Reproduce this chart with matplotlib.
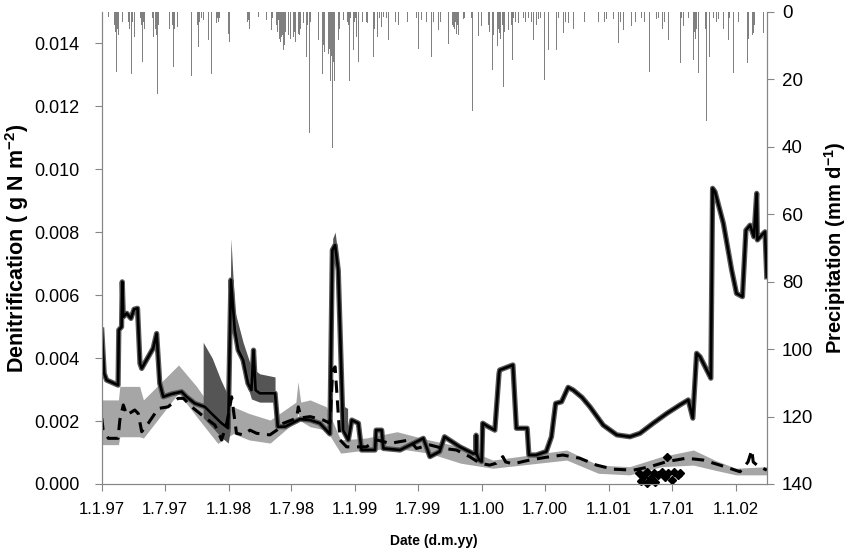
import matplotlib
matplotlib.use('Agg')
import matplotlib.pyplot as plt
import pandas as pd

plt.rcParams['font.family'] = ['Liberation Sans', 'DejaVu Sans']
plt.rcParams['mathtext.fontset'] = 'custom'
plt.rcParams['mathtext.rm'] = 'Liberation Sans'
plt.rcParams['mathtext.bf'] = 'Liberation Sans:bold'

# simulated denitrification, run 1 (solid line, dark band)
solid_dates = ['1997-01-01', '1997-01-08', '1997-01-15', '1997-02-17', '1997-02-19', '1997-02-27',
               '1997-03-01', '1997-03-04', '1997-03-14', '1997-03-26', '1997-04-04', '1997-04-14',
               '1997-04-21', '1997-04-26', '1997-05-15', '1997-05-29', '1997-06-08', '1997-06-17',
               '1997-06-27', '1997-07-21', '1997-08-19', '1997-09-02', '1997-09-26', '1997-10-25',
               '1997-11-13', '1997-12-12', '1997-12-31', '1998-01-08', '1998-01-19', '1998-01-29',
               '1998-02-12', '1998-02-26', '1998-03-08', '1998-03-14', '1998-03-20', '1998-04-01',
               '1998-05-15', '1998-05-23', '1998-06-13', '1998-07-26', '1998-08-24', '1998-09-21',
               '1998-10-20', '1998-10-27', '1998-11-04', '1998-11-13', '1998-11-27', '1998-12-12',
               '1998-12-22', '1999-01-10', '1999-01-19', '1999-02-27', '1999-03-02', '1999-03-18',
               '1999-03-23', '1999-05-10', '1999-06-17', '1999-07-16', '1999-08-04', '1999-09-01',
               '1999-09-15', '1999-10-29', '1999-12-06', '1999-12-14', '1999-12-15', '1999-12-16',
               '1999-12-24', '1999-12-31', '2000-01-03', '2000-01-19', '2000-02-07', '2000-02-19',
               '2000-02-21', '2000-03-30', '2000-04-09', '2000-05-10', '2000-05-15', '2000-06-05',
               '2000-07-04', '2000-07-19', '2000-07-31', '2000-08-17', '2000-09-05', '2000-09-20',
               '2000-10-15', '2000-11-07', '2000-12-15', '2001-01-23', '2001-03-02', '2001-03-31',
               '2001-05-08', '2001-06-16', '2001-07-24', '2001-08-17', '2001-08-30', '2001-09-10',
               '2001-09-20', '2001-10-21', '2001-10-26', '2001-11-02', '2001-11-26', '2001-12-20',
               '2002-01-03', '2002-01-20', '2002-01-30', '2002-02-11', '2002-02-22', '2002-03-02',
               '2002-03-04', '2002-03-17', '2002-03-26', '2002-03-31']
solid_vals = [0.00489, 0.00351, 0.00330, 0.00314, 0.00489, 0.00499,
              0.00642, 0.00531, 0.00542, 0.00526, 0.00555, 0.00558,
              0.00383, 0.00367, 0.00404, 0.00431, 0.00478, 0.00320,
              0.00277, 0.00286, 0.00293, 0.00277, 0.00256, 0.00245,
              0.00224, 0.00193, 0.00177, 0.00648, 0.00489, 0.00425,
              0.00394, 0.00320, 0.00298, 0.00425, 0.00298, 0.00288,
              0.00288, 0.00182, 0.00182, 0.00206, 0.00203, 0.00193,
              0.00159, 0.00743, 0.00759, 0.00679, 0.00171, 0.00140,
              0.00203, 0.00193, 0.00108, 0.00108, 0.00171, 0.00171,
              0.00113, 0.00108, 0.00129, 0.00145, 0.00087, 0.00103,
              0.00150, 0.00118, 0.00097, 0.00097, 0.00155, 0.00097,
              0.00076, 0.00071, 0.00193, 0.00182, 0.00171, 0.00351,
              0.00362, 0.00378, 0.00177, 0.00177, 0.00092, 0.00092,
              0.00103, 0.00150, 0.00256, 0.00261, 0.00307, 0.00298,
              0.00275, 0.00245, 0.00187, 0.00156, 0.00150, 0.00161,
              0.00193, 0.00224, 0.00251, 0.00267, 0.00209, 0.00415,
              0.00404, 0.00336, 0.00939, 0.00928, 0.00828, 0.00679,
              0.00605, 0.00595, 0.00806, 0.00822, 0.00785, 0.00923,
              0.00775, 0.00791, 0.00801, 0.00658]

# wider parts of the dark uncertainty band
dark_dates = ['1997-10-20', '1997-11-15', '1997-12-10', '1997-12-31', '1998-01-06', '1998-01-08',
              '1998-01-19', '1998-02-12', '1998-03-08', '1998-04-01', '1998-05-15']
dark_lo = [0.00210, 0.00180, 0.00150, 0.00130, 0.00170, 0.00600,
           0.00460, 0.00360, 0.00270, 0.00260, 0.00260]
dark_hi = [0.00450, 0.00400, 0.00330, 0.00280, 0.00600, 0.00780,
           0.00550, 0.00450, 0.00370, 0.00350, 0.00340]
dark2_dates = ['1998-10-25', '1998-10-28', '1998-11-04', '1998-11-13', '1998-11-25', '1998-12-10']
dark2_lo = [0.00160, 0.00700, 0.00740, 0.00640, 0.00170, 0.00140]
dark2_hi = [0.00200, 0.00780, 0.00800, 0.00720, 0.00250, 0.00240]

# simulated denitrification, run 2 (dashed line, light band)
dash_dates = ['1997-01-01', '1997-01-05', '1997-01-20', '1997-02-17', '1997-02-22', '1997-03-04',
              '1997-03-14', '1997-04-06', '1997-04-16', '1997-04-26', '1997-05-15', '1997-06-13',
              '1997-07-11', '1997-08-09', '1997-08-24', '1997-09-17', '1997-10-16', '1997-11-04',
              '1997-11-23', '1997-12-12', '1997-12-27', '1998-01-10', '1998-01-24', '1998-02-12',
              '1998-03-04', '1998-03-23', '1998-04-30', '1998-05-20', '1998-06-08', '1998-07-16',
              '1998-07-21', '1998-07-29', '1998-08-24', '1998-10-01', '1998-10-20', '1998-10-28',
              '1998-11-04', '1998-11-18', '1998-12-07', '1999-02-02', '1999-03-04', '1999-04-11',
              '1999-06-07', '1999-06-26', '1999-08-04', '1999-09-11', '1999-10-19', '1999-11-26',
              '1999-12-26', '2000-01-23', '2000-02-11', '2000-03-01', '2000-03-09', '2000-03-30',
              '2000-05-17', '2000-07-04', '2000-08-21', '2000-10-08', '2000-11-26', '2001-01-13',
              '2001-03-12', '2001-04-29', '2001-06-16', '2001-08-12', '2001-09-29', '2001-11-16',
              '2002-01-13', '2002-02-05', '2002-02-16', '2002-02-20', '2002-03-06', '2002-03-31']
dash_vals = [0.00209, 0.00171, 0.00145, 0.00145, 0.00203, 0.00251,
             0.00219, 0.00235, 0.00224, 0.00166, 0.00193, 0.00240,
             0.00245, 0.00272, 0.00272, 0.00245, 0.00219, 0.00203,
             0.00187, 0.00140, 0.00193, 0.00277, 0.00161, 0.00156,
             0.00171, 0.00161, 0.00156, 0.00171, 0.00193, 0.00209,
             0.00245, 0.00210, 0.00214, 0.00203, 0.00193, 0.00362,
             0.00372, 0.00140, 0.00118, 0.00118, 0.00140, 0.00129,
             0.00140, 0.00113, 0.00124, 0.00113, 0.00108, 0.00087,
             0.00066, 0.00060, 0.00066, 0.00087, 0.00070, 0.00064,
             0.00076, 0.00085, 0.00092, 0.00082, 0.00060, 0.00047,
             0.00044, 0.00055, 0.00071, 0.00082, 0.00076, 0.00060,
             0.00039, 0.00070, 0.00108, 0.00070, 0.00057, 0.00044]

light_dates = ['1997-01-01', '1997-02-18', '1997-02-22', '1997-04-20', '1997-05-01', '1997-08-10',
               '1997-10-01', '1997-12-01', '1998-01-15', '1998-03-01', '1998-05-01', '1998-07-14',
               '1998-07-20', '1998-07-28', '1998-08-24', '1998-10-10', '1998-11-20', '1999-02-01',
               '1999-05-01', '1999-08-01', '1999-11-01', '2000-02-01', '2000-09-01', '2000-12-01',
               '2001-03-01', '2001-06-01', '2001-09-01', '2001-11-01', '2002-01-01', '2002-03-31']
light_lo = [0.00125, 0.00125, 0.00150, 0.00150, 0.00146, 0.00289,
            0.00214, 0.00129, 0.00160, 0.00140, 0.00130, 0.00200,
            0.00225, 0.00200, 0.00182, 0.00171, 0.00098, 0.00108,
            0.00113, 0.00098, 0.00066, 0.00050, 0.00076, 0.00034,
            0.00029, 0.00055, 0.00060, 0.00044, 0.00029, 0.00029]
light_hi = [0.00267, 0.00267, 0.00310, 0.00310, 0.00267, 0.00378,
            0.00310, 0.00214, 0.00245, 0.00224, 0.00203, 0.00260,
            0.00325, 0.00260, 0.00267, 0.00245, 0.00140, 0.00146,
            0.00166, 0.00140, 0.00118, 0.00076, 0.00108, 0.00060,
            0.00055, 0.00087, 0.00108, 0.00076, 0.00050, 0.00055]

# measured denitrification (diamonds)
obs_dates = ['2001-03-29', '2001-04-02', '2001-04-10', '2001-04-20', '2001-04-21', '2001-05-01',
             '2001-05-09', '2001-05-14', '2001-05-23', '2001-06-02', '2001-06-11', '2001-06-16',
             '2001-06-21', '2001-07-01', '2001-07-07', '2001-07-17', '2001-07-25']
obs_vals = [0.00034, 0.00010, 0.00023, 0.00039, 0.00002, 0.00018,
            0.00034, 0.00007, 0.00029, 0.00039, 0.00023, 0.00087,
            0.00034, 0.00013, 0.00039, 0.00029, 0.00034]

# daily precipitation, larger events (days after 1.1.97, mm)
rain_day = [19, 29, 43, 48, 53, 58, 62, 75, 82, 86, 94, 105, 117, 125, 130, 136, 139, 144, 149,
            161, 168, 173, 179, 185, 190, 197, 202, 206, 211, 218, 226, 239, 245, 251, 258, 274,
            278, 283, 293, 307, 316, 331, 341, 346, 358, 365, 370, 375, 381, 389, 398, 422, 427,
            432, 439, 451, 458, 464, 475, 485, 489, 509, 518, 523, 533, 540, 545, 552, 560, 566,
            576, 581, 590, 598, 605, 614, 624, 636, 646, 653, 659, 664, 670, 675, 682, 696, 713,
            718, 725, 734, 739, 749, 755, 765, 773, 782, 787, 794, 806, 811, 826, 835, 842, 859,
            864, 874, 888, 893, 902, 912, 921, 931, 950, 960, 970, 989, 998, 1003, 1013, 1022,
            1027, 1037, 1042, 1051, 1061, 1068, 1075, 1085, 1094, 1118, 1125, 1133, 1140, 1145,
            1152, 1157, 1164, 1171, 1183, 1200, 1210, 1224, 1234, 1243, 1258, 1275, 1286, 1296,
            1310, 1320, 1330, 1344, 1354, 1368, 1380, 1395, 1406, 1426, 1443, 1454, 1474, 1488,
            1502, 1512, 1526, 1541, 1550, 1558, 1570, 1577, 1584, 1598, 1613, 1625, 1632, 1642,
            1648, 1656, 1666, 1675, 1685, 1694, 1704, 1718, 1728, 1735, 1742, 1750, 1757, 1766,
            1776, 1786, 1795, 1805, 1819, 1829, 1838, 1846, 1853, 1860, 1867, 1877, 1884, 1889,
            1896, 1906]
rain_mm = [1.5, 2.0, 18.0, 7.0, 8.5, 26.0, 2.5, 9.5, 4.5, 18.5, 7.5, 3.5, 15.0, 3.5, 15.0, 25.5,
           18.5, 5.5, 7.5, 24.5, 3.5, 11.5, 19.5, 21.0, 5.5, 18.5, 11.5, 16.5, 15.5, 4.5, 1.5,
           34.5, 2.5, 5.5, 19.0, 3.5, 10.5, 16.0, 2.5, 8.5, 18.5, 3.5, 6.5, 16.0, 8.5, 6.5, 12.5,
           36.5, 8.5, 3.5, 1.5, 2.5, 18.5, 19.0, 4.5, 1.5, 19.0, 6.5, 2.5, 10.5, 5.5, 2.5, 7.5,
           11.5, 8.5, 12.5, 17.0, 7.5, 18.5, 6.5, 10.5, 3.5, 13.5, 36.0, 5.5, 14.5, 8.5, 18.5,
           16.5, 12.5, 20.5, 40.5, 20.5, 21.5, 8.5, 2.5, 20.5, 6.5, 11.5, 7.5, 15.0, 8.5, 12.0,
           3.5, 6.5, 13.5, 11.5, 7.5, 4.5, 1.5, 8.5, 6.5, 2.5, 7.5, 9.0, 2.5, 5.5, 7.5, 4.5,
           11.0, 2.5, 5.5, 13.5, 18.0, 5.5, 11.5, 9.5, 5.5, 4.5, 6.5, 7.0, 2.5, 2.3, 13.3, 6.3,
           29.3, 10.3, 7.3, 4.3, 3.3, 17.3, 5.3, 10.3, 6.3, 9.3, 22.3, 18.3, 5.3, 14.3, 3.3,
           4.3, 2.3, 5.3, 8.3, 2.3, 20.3, 11.3, 5.3, 11.3, 4.3, 6.3, 3.3, 11.3, 4.3, 3.3, 12.3,
           4.3, 3.3, 16.8, 2.3, 2.3, 9.3, 5.3, 6.3, 4.3, 4.3, 6.3, 8.3, 4.3, 17.8, 7.3, 2.3,
           5.3, 26.3, 8.3, 8.3, 32.3, 7.3, 15.3, 4.3, 17.3, 6.3, 14.3, 18.3, 9.3, 35.3, 32.3,
           13.3, 16.3, 8.3, 2.3, 6.3, 9.3, 8.3, 18.3, 4.3, 4.3, 5.3, 16.3, 15.3, 17.3, 6.3, 21.3,
           14.3, 7.3, 6.3]

# daily precipitation, small events (days after 1.1.97, mm)
small_day = [33, 35, 37, 39, 41, 45, 50, 55, 60, 70, 73, 77, 80, 84, 88, 112, 115, 120, 123, 128,
             133, 141, 146, 155, 158, 163, 165, 170, 176, 182, 188, 193, 195, 200, 204, 209, 214,
             243, 248, 254, 272, 276, 281, 287, 333, 336, 339, 344, 349, 352, 355, 361, 368, 372,
             378, 384, 387, 420, 425, 430, 435, 455, 461, 470, 478, 482, 492, 503, 506, 512, 515,
             521, 526, 529, 536, 538, 543, 548, 555, 558, 563, 569, 572, 579, 588, 593, 601, 608,
             611, 617, 639, 641, 643, 649, 651, 656, 662, 667, 672, 678, 680, 685, 708, 711, 716,
             721, 728, 731, 751, 758, 762, 775, 778, 785, 790, 861, 868, 876, 882, 991, 994, 1000,
             1006, 1010, 1016, 1019, 1025, 1031, 1034, 1040, 1114, 1116, 1121, 1128, 1130, 1136,
             1143, 1148, 1154, 1160, 1167, 1175, 1180, 1186, 1282, 1290, 1300, 1306, 1315, 1358,
             1362, 1372, 1412, 1418, 1430, 1484, 1494, 1506, 1518, 1530, 1537, 1608, 1615, 1620,
             1628, 1637, 1645, 1696, 1699, 1707, 1710, 1713, 1722, 1725, 1732, 1739, 1778, 1781,
             1790, 1798, 1801, 1844, 1849, 1856, 1863, 1870, 1874, 1880, 1892, 1899, 1902,
             800, 815, 820, 830, 838, 846, 850, 855, 871, 880, 885, 897, 906, 916, 925, 935, 940,
             945, 955, 965, 975, 980, 1045, 1055, 1065, 1072, 1080, 1090, 1100, 1106, 1192, 1196,
             1205, 1215, 1220, 1229, 1238, 1248, 1252, 1264, 1268, 1325, 1335, 1340, 1349, 1385,
             1390, 1400, 1440, 1448, 1460, 1466, 1470, 1478, 1545, 1554, 1563, 1590, 1594, 1603,
             1660, 1670, 1680, 1690, 1750, 1762, 1770, 1808, 1812, 1824, 1834]
small_mm = [5, 7, 4, 6, 8, 5, 6, 4, 3, 3, 4, 3, 5, 2, 3, 2, 4, 3, 5, 4,
            3, 4, 2, 5, 7, 4, 6, 5, 8, 6, 4, 7, 5, 6, 4, 5, 3,
            3, 2, 3, 2, 4, 3, 2, 2, 3, 2, 4, 3, 2, 5, 4, 9, 10,
            6, 4, 2, 3, 5, 4, 3, 2, 3, 2, 2, 3, 2, 4, 6, 8, 9,
            7, 10, 6, 9, 7, 8, 5, 6, 9, 4, 7, 5, 3, 3, 4, 3, 4,
            2, 3, 10, 12, 8, 14, 9, 11, 13, 15, 10, 12, 7, 5, 3, 4, 2,
            4, 3, 2, 3, 2, 3, 4, 6, 5, 3, 3, 2, 3, 2, 4, 5, 3,
            6, 4, 5, 3, 4, 5, 3, 4, 4, 6, 5, 7, 4, 6,
            5, 8, 4, 6, 5, 3, 4, 2, 2, 3, 2, 3, 2, 5,
            4, 3, 3, 2, 3, 2, 3, 2, 3, 2, 3, 4, 5, 3,
            4, 5, 3, 5, 7, 6, 8, 5, 6, 4, 7, 5, 6, 8,
            5, 7, 4, 5, 7, 6, 8, 5, 7, 4, 6, 5, 8,
            2, 3, 2, 4, 2, 3, 2, 4, 2, 3, 2, 3, 2, 3, 2, 3, 2,
            4, 3, 2, 3, 2, 2, 3, 2, 4, 2, 3, 2, 3, 3, 2,
            3, 2, 3, 2, 3, 2, 4, 2, 3, 2, 3, 2, 3, 2,
            3, 2, 2, 3, 2, 3, 2, 3, 3, 2, 3, 2, 3, 2,
            3, 2, 3, 2, 3, 2, 3, 2, 3, 2, 3]

tick_dates = pd.date_range('1997-01-01', '2002-01-01', freq='6MS')
tick_labels = [f'{d.day}.{d.month}.{d.year % 100:02d}' for d in tick_dates]

start = pd.Timestamp('1997-01-01')
sd = pd.to_datetime(solid_dates)
dd = pd.to_datetime(dash_dates)
rain_dates = start + pd.to_timedelta(rain_day + small_day, unit='D')
rain_all = rain_mm + small_mm

fig = plt.figure(figsize=(8.48, 5.51), dpi=100)
ax = fig.add_axes([0.12, 0.1216, 0.7842, 0.8572])

ax.fill_between(pd.to_datetime(light_dates), light_lo, light_hi, color='#a6a6a6', lw=0, zorder=1)
ax.plot(dd, dash_vals, color='black', lw=2.2, dashes=(4, 2.5), zorder=3)
ax.fill_between(pd.to_datetime(dark_dates), dark_lo, dark_hi, color='#555555', lw=0, zorder=2)
ax.fill_between(pd.to_datetime(dark2_dates), dark2_lo, dark2_hi, color='#555555', lw=0, zorder=2)
ax.plot(sd, solid_vals, color='#595959', lw=3.8, zorder=2)
ax.plot(sd, solid_vals, color='black', lw=1.9, zorder=4)
ax.plot(pd.to_datetime(obs_dates), obs_vals, 'D', color='black', ms=4.5, zorder=5, clip_on=False)

ax.set_xlim(start, pd.Timestamp('2002-03-31'))
ax.set_ylim(0, 0.015)
ax.set_yticks([0, 0.002, 0.004, 0.006, 0.008, 0.010, 0.012, 0.014])
ax.set_yticklabels([f'{v:.3f}' for v in ax.get_yticks()])
ax.set_xticks(tick_dates)
ax.set_xticklabels(tick_labels)

ax2 = ax.twinx()
ax2.bar(rain_dates, rain_all, width=1.2, color='#808080', lw=0)
ax2.set_ylim(140, 0)
ax2.set_yticks(range(0, 141, 20))

for a in (ax, ax2):
    a.spines['top'].set_visible(False)
    for s in ('left', 'right', 'bottom'):
        a.spines[s].set_color('#868686')
    a.tick_params(colors='#868686', labelcolor='black', length=5)
ax.tick_params(axis='y', labelsize=13, pad=11)
ax2.tick_params(axis='y', labelsize=13.5, pad=6)
ax.tick_params(axis='x', labelsize=12, pad=8)

ax.set_ylabel(r'Denitrification ( g N m$^{\mathbf{-2}}$)', fontsize=15.5, fontweight='bold')
ax2.set_ylabel(r'Precipitation (mm d$^{\mathbf{-1}}$)', fontsize=14.5, fontweight='bold')
ax.yaxis.set_label_coords(-0.106, 0.5)
ax2.yaxis.set_label_coords(1.083, 0.5)
ax.set_xlabel('Date (d.m.yy)', fontsize=10, fontweight='bold', labelpad=12)

fig.savefig('out.png', dpi=100)
